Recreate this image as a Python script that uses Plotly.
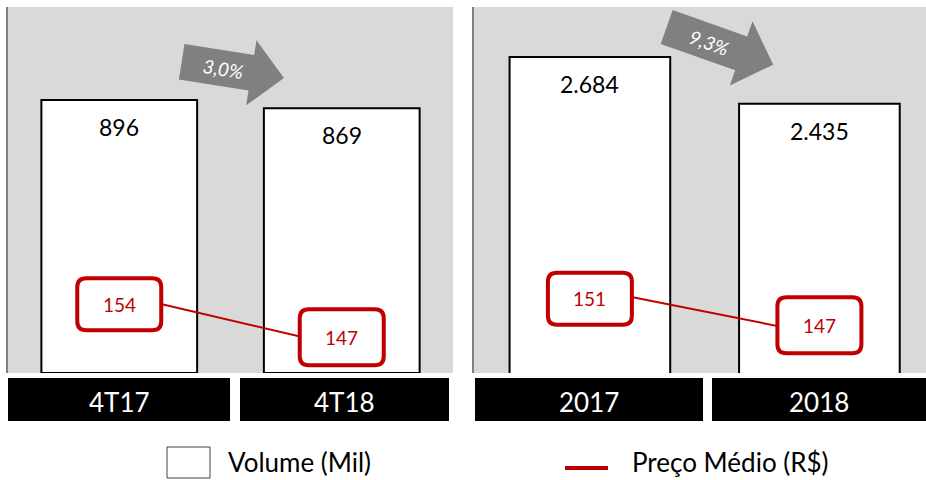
import math
import plotly.graph_objects as go

# ---------------- data ----------------
periods_q = ["4T17", "4T18"]
periods_y = ["2017", "2018"]
volume_q = [896, 869]          # Volume (Mil)
volume_y = [2684, 2435]
price_q = [154, 147]           # Preço Médio (R$)
price_y = [151, 147]
series_volume = "Volume (Mil)"
series_price = "Preço Médio (R$)"

# ---------------- style ----------------
W, H = 926, 480
RED = "#c00000"
BG = "#d9d9d9"
FONT = "Lato, 'Open Sans', sans-serif"


def px(x):
    return x / W


def py(y):
    return 1 - y / H


def fmt_thousands(v):
    return f"{v:,}".replace(",", ".")


def fmt_pct(a, b):
    return f"{abs(b / a - 1) * 100:.1f}".replace(".", ",") + "%"


def arrow_path(ox, oy, theta, L, bh, hh, hl):
    t = math.radians(theta)
    u = (math.cos(t), math.sin(t))
    n = (-math.sin(t), math.cos(t))
    local = [(0, -bh), (L - hl, -bh), (L - hl, -hh), (L, 0), (L - hl, hh), (L - hl, bh), (0, bh)]
    pts = []
    for a, b in local:
        x = ox + a * u[0] + b * n[0]
        y = oy + a * u[1] + b * n[1]
        pts.append((px(x), py(y)))
    return "M " + " L ".join(f"{x:.5f},{y:.5f}" for x, y in pts) + " Z"


def rounded_rect(cx, cy, w, h, r):
    x0, x1 = cx - w / 2, cx + w / 2
    y0, y1 = cy - h / 2, cy + h / 2
    return (f"M {x0 + r},{y0} L {x1 - r},{y0} Q {x1},{y0} {x1},{y0 + r} "
            f"L {x1},{y1 - r} Q {x1},{y1} {x1 - r},{y1} L {x0 + r},{y1} "
            f"Q {x0},{y1} {x0},{y1 - r} L {x0},{y0 + r} Q {x0},{y0} {x0 + r},{y0} Z")


panels = [
    dict(cats=periods_q, vol=volume_q, price=price_q, xa="x", ya="y", pa="y3",
         xdom=(8, 453), xrange=[-0.5, 1.5], yrange=[0, 1201], prange=[143.38, 192.77],
         arrow=dict(ox=181.7, oy=61.7, theta=9, L=103.5, bh=18, hh=33, hl=33),
         boxes=[(8, 230), (240, 449)]),
    dict(cats=periods_y, vol=volume_y, price=price_y, xa="x2", ya="y2", pa="y4",
         xdom=(474, 926), xrange=[-0.505, 1.4645], yrange=[1000, 2951], prange=[143.61, 175.72],
         arrow=dict(ox=666.7, oy=27, theta=19.5, L=113, bh=18, hh=34, hl=34),
         boxes=[(475, 703), (712, 926)]),
]

label_dy = [10, -9]       # label box offsets from the line points (px, down positive)
label_h = [52, 56]

fig = go.Figure()
shapes = []
annotations = []
layout_axes = {}

for k, p in enumerate(panels):
    fig.add_trace(go.Bar(
        x=p["cats"], y=p["vol"], name=series_volume, xaxis=p["xa"], yaxis=p["ya"],
        width=0.7, marker=dict(color="white", line=dict(color="black", width=2)),
        showlegend=False, hoverinfo="skip"))
    fig.add_trace(go.Scatter(
        x=p["cats"], y=p["price"], name=series_price, xaxis=p["xa"], yaxis=p["pa"],
        mode="lines", line=dict(color=RED, width=2), showlegend=False, hoverinfo="skip"))

    xname = "xaxis" if p["xa"] == "x" else "xaxis2"
    yname = "yaxis" if p["ya"] == "y" else "yaxis2"
    pname = "yaxis3" if p["pa"] == "y3" else "yaxis4"
    layout_axes[xname] = dict(domain=[px(p["xdom"][0]), px(p["xdom"][1])], anchor=p["ya"],
                              type="category", range=p["xrange"], showticklabels=False,
                              showgrid=False, zeroline=False, ticks="", showline=False)
    layout_axes[yname] = dict(domain=[py(373), py(7)], anchor=p["xa"], range=p["yrange"],
                              showticklabels=False, showgrid=False, zeroline=False, ticks="",
                              showline=True, linecolor="#7f7f7f", linewidth=2)
    layout_axes[pname] = dict(overlaying=p["ya"], anchor=p["xa"], range=p["prange"], visible=False)

    # value labels on bars
    for i, (c, v) in enumerate(zip(p["cats"], p["vol"])):
        annotations.append(dict(x=i, y=v, xref=p["xa"], yref=p["ya"], text=fmt_thousands(v),
                                showarrow=False, yshift=-27, xanchor="center", yanchor="middle",
                                font=dict(family=FONT, size=23, color="black")))

    # price labels (rounded boxes)
    for i, v in enumerate(p["price"]):
        shapes.append(dict(type="path", xref=p["xa"], yref=p["pa"], xsizemode="pixel",
                           ysizemode="pixel", xanchor=i, yanchor=v,
                           path=rounded_rect(0, -label_dy[i], 84, label_h[i], 9),
                           fillcolor="white", line=dict(color=RED, width=4), layer="above"))
        annotations.append(dict(x=i, y=v, xref=p["xa"], yref=p["pa"], text=str(v),
                                showarrow=False, yshift=-label_dy[i], xanchor="center",
                                yanchor="middle", font=dict(family=FONT, size=19, color=RED)))

    # category boxes
    for c, (x0, x1) in zip(p["cats"], p["boxes"]):
        shapes.append(dict(type="rect", xref="paper", yref="paper", x0=px(x0), x1=px(x1),
                           y0=py(421), y1=py(378), fillcolor="black", line=dict(width=0),
                           layer="above"))
        annotations.append(dict(x=px((x0 + x1) / 2), y=py(402), xref="paper", yref="paper",
                                text=c, showarrow=False, xanchor="center", yanchor="middle",
                                font=dict(family=FONT, size=26, color="white")))

    # change arrow
    a = p["arrow"]
    shapes.append(dict(type="path", xref="paper", yref="paper",
                       path=arrow_path(a["ox"], a["oy"], a["theta"], a["L"], a["bh"], a["hh"], a["hl"]),
                       fillcolor="#808080", line=dict(width=0), layer="above"))
    t = math.radians(a["theta"])
    tx = a["ox"] + 0.4 * a["L"] * math.cos(t)
    ty = a["oy"] + 0.4 * a["L"] * math.sin(t)
    annotations.append(dict(x=px(tx), y=py(ty), xref="paper", yref="paper",
                            text="<i>" + fmt_pct(p["vol"][0], p["vol"][1]) + "</i>",
                            textangle=a["theta"], showarrow=False, xanchor="center", yanchor="middle",
                            font=dict(family=FONT, size=19, color="white")))

# legend (drawn manually)
shapes.append(dict(type="rect", xref="paper", yref="paper", x0=px(167), x1=px(210),
                   y0=py(478), y1=py(447), fillcolor="white", line=dict(color="#404040", width=1)))
annotations.append(dict(x=px(227), y=py(462), xref="paper", yref="paper", text=series_volume,
                        showarrow=False, xanchor="left", yanchor="middle", borderpad=0,
                        font=dict(family=FONT, size=26, color="black")))
shapes.append(dict(type="line", xref="paper", yref="paper", x0=px(565), x1=px(608),
                   y0=py(468), y1=py(468), line=dict(color=RED, width=4)))
annotations.append(dict(x=px(631), y=py(462), xref="paper", yref="paper", text=series_price,
                        showarrow=False, xanchor="left", yanchor="middle", borderpad=0,
                        font=dict(family=FONT, size=26, color="black")))

fig.update_layout(
    width=W, height=H, margin=dict(l=0, r=0, t=0, b=0),
    paper_bgcolor="white", plot_bgcolor=BG, showlegend=False,
    separators=",.", font=dict(family=FONT),
    shapes=shapes, annotations=annotations, **layout_axes)

fig.write_html(
    "out.html",
    config={"displayModeBar": False},
    post_script="document.body.style.margin='0';document.body.style.padding='0';"
                "document.body.style.overflow='hidden';",
)
